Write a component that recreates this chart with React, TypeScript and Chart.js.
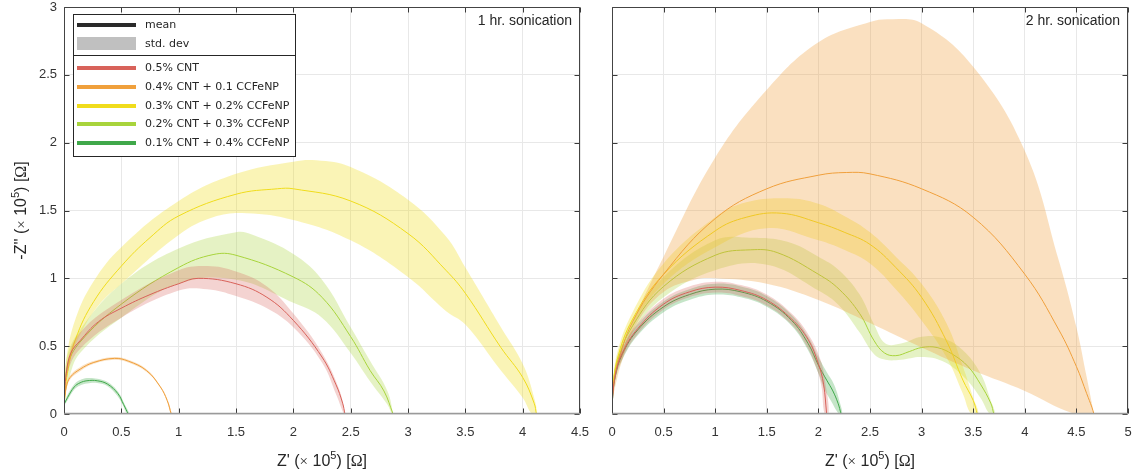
import React, { useEffect, useRef } from 'react';
import { Chart, registerables } from 'chart.js';
Chart.register(...registerables);

type P = [number, number];

// ---------- tick values ----------
const LEFT_X_TICKS = [0, 0.5, 1, 1.5, 2, 2.5, 3, 3.5, 4, 4.5];
const RIGHT_X_TICKS = [0, 0.5, 1, 1.5, 2, 2.5, 3, 3.5, 4, 4.5, 5];
const Y_TICKS = [0, 0.5, 1, 1.5, 2, 2.5, 3];

// ---------- series ----------
const SERIES_NAMES = [
  '0.5% CNT',
  '0.4% CNT + 0.1 CCFeNP',
  '0.3% CNT + 0.2% CCFeNP',
  '0.2% CNT + 0.3% CCFeNP',
  '0.1% CNT + 0.4% CCFeNP',
];
const SERIES_COLORS = ['#d8625a', '#f0a03c', '#f0dc1c', '#a8d43c', '#40a84a'];
const BAND_COLORS = [
  'rgba(216,98,90,0.28)',
  'rgba(240,160,60,0.32)',
  'rgba(240,220,28,0.32)',
  'rgba(168,212,60,0.30)',
  'rgba(64,168,74,0.30)',
];
const PANEL_TITLES = ['1 hr. sonication', '2 hr. sonication'];

// ---------- left panel (1 hr) ----------
const L_RED_MEAN: P[] = [[0, 0.07], [0.02, 0.3], [0.06, 0.45], [0.14, 0.54], [0.3, 0.68], [0.5, 0.78], [0.75, 0.88], [1.0, 0.96], [1.17, 1.0], [1.5, 0.96], [1.77, 0.86], [2.0, 0.69], [2.25, 0.42], [2.37, 0.22], [2.43, 0.08], [2.45, 0]];
const L_RED_UP: P[] = [[0, 0.07], [0.03, 0.38], [0.14, 0.6], [0.5, 0.84], [1.0, 1.06], [1.25, 1.09], [1.5, 1.05], [1.77, 0.94], [2.0, 0.74], [2.25, 0.45], [2.4, 0.18], [2.45, 0]];
const L_RED_LO: P[] = [[0, 0.07], [0.03, 0.3], [0.14, 0.48], [0.5, 0.71], [1.0, 0.91], [1.25, 0.92], [1.5, 0.87], [1.77, 0.78], [2.0, 0.64], [2.25, 0.38], [2.38, 0.13], [2.44, 0]];

const L_ORA_MEAN: P[] = [[0, 0.07], [0.02, 0.2], [0.054, 0.27], [0.14, 0.33], [0.26, 0.38], [0.44, 0.41], [0.56, 0.39], [0.72, 0.32], [0.84, 0.2], [0.9, 0.1], [0.935, 0]];
const L_ORA_UP: P[] = [[0, 0.08], [0.02, 0.22], [0.054, 0.285], [0.14, 0.345], [0.26, 0.39], [0.44, 0.42], [0.56, 0.4], [0.72, 0.33], [0.845, 0.2], [0.905, 0.1], [0.94, 0]];
const L_ORA_LO: P[] = [[0, 0.06], [0.02, 0.18], [0.054, 0.255], [0.14, 0.315], [0.26, 0.37], [0.44, 0.4], [0.56, 0.38], [0.72, 0.31], [0.835, 0.2], [0.895, 0.1], [0.93, 0]];

const L_YEL_MEAN: P[] = [[0, 0.07], [0.03, 0.3], [0.1, 0.55], [0.26, 0.83], [0.5, 1.09], [0.75, 1.3], [1.0, 1.46], [1.5, 1.62], [1.86, 1.66], [2.0, 1.66], [2.5, 1.57], [3.0, 1.33], [3.33, 1.06], [3.5, 0.89], [3.81, 0.49], [4.0, 0.27], [4.1, 0.08], [4.12, 0]];
const L_YEL_UP: P[] = [[0, 0.07], [0.02, 0.4], [0.1, 0.7], [0.26, 0.98], [0.5, 1.23], [1.0, 1.57], [1.5, 1.77], [2.0, 1.86], [2.2, 1.87], [2.5, 1.82], [3.0, 1.58], [3.33, 1.31], [3.5, 1.08], [3.81, 0.64], [4.0, 0.37], [4.1, 0.12], [4.12, 0]];
const L_YEL_LO: P[] = [[0, 0.07], [0.05, 0.38], [0.15, 0.6], [0.3, 0.8], [0.5, 0.96], [1.0, 1.32], [1.3, 1.45], [1.59, 1.48], [2.0, 1.43], [2.5, 1.28], [3.0, 1.01], [3.33, 0.76], [3.5, 0.66], [3.81, 0.32], [4.0, 0.12], [4.08, 0]];

const L_LIM_MEAN: P[] = [[0, 0.07], [0.03, 0.35], [0.14, 0.53], [0.5, 0.81], [1.0, 1.08], [1.3, 1.175], [1.5, 1.17], [2.0, 1.01], [2.25, 0.86], [2.5, 0.57], [2.67, 0.32], [2.79, 0.17], [2.87, 0]];
const L_LIM_UP: P[] = [[0, 0.07], [0.02, 0.4], [0.14, 0.62], [0.5, 0.96], [1.0, 1.22], [1.5, 1.34], [1.65, 1.32], [2.0, 1.18], [2.25, 0.99], [2.5, 0.64], [2.67, 0.39], [2.82, 0.17], [2.87, 0]];
const L_LIM_LO: P[] = [[0, 0.07], [0.05, 0.28], [0.14, 0.45], [0.5, 0.71], [1.0, 0.96], [1.5, 0.99], [2.0, 0.82], [2.25, 0.71], [2.5, 0.45], [2.67, 0.24], [2.82, 0.07], [2.86, 0]];

const L_GRN_MEAN: P[] = [[0, 0.07], [0.03, 0.12], [0.09, 0.2], [0.14, 0.23], [0.2, 0.245], [0.29, 0.245], [0.38, 0.22], [0.47, 0.15], [0.52, 0.07], [0.56, 0]];
const L_GRN_UP: P[] = [[0, 0.08], [0.03, 0.14], [0.09, 0.22], [0.14, 0.25], [0.2, 0.265], [0.29, 0.26], [0.38, 0.235], [0.47, 0.165], [0.53, 0.07], [0.57, 0]];
const L_GRN_LO: P[] = [[0, 0.06], [0.03, 0.1], [0.09, 0.18], [0.14, 0.21], [0.2, 0.225], [0.29, 0.228], [0.38, 0.205], [0.46, 0.14], [0.51, 0.07], [0.55, 0]];

// ---------- right panel (2 hr) ----------
const R_RED_MEAN: P[] = [[0, 0.07], [0.03, 0.28], [0.1, 0.45], [0.25, 0.63], [0.5, 0.81], [0.75, 0.9], [1.0, 0.935], [1.25, 0.91], [1.5, 0.84], [1.74, 0.7], [1.9, 0.55], [2.0, 0.37], [2.05, 0.22], [2.08, 0]];
const R_RED_UP: P[] = [[0, 0.08], [0.03, 0.31], [0.1, 0.49], [0.25, 0.67], [0.5, 0.85], [0.75, 0.94], [1.0, 0.975], [1.25, 0.95], [1.5, 0.88], [1.74, 0.74], [1.9, 0.59], [2.02, 0.4], [2.07, 0.22], [2.1, 0]];
const R_RED_LO: P[] = [[0, 0.06], [0.03, 0.25], [0.1, 0.41], [0.25, 0.59], [0.5, 0.77], [0.75, 0.86], [1.0, 0.895], [1.25, 0.87], [1.5, 0.8], [1.74, 0.66], [1.88, 0.51], [1.98, 0.34], [2.03, 0.2], [2.06, 0]];

const R_ORA_MEAN: P[] = [[0, 0.12], [0.05, 0.35], [0.2, 0.68], [0.5, 1.03], [1.0, 1.44], [1.5, 1.66], [2.0, 1.76], [2.27, 1.78], [2.5, 1.77], [3.0, 1.66], [3.5, 1.45], [4.0, 1.03], [4.33, 0.62], [4.5, 0.35], [4.6, 0.15], [4.65, 0.05], [4.67, 0]];
const R_ORA_UP: P[] = [[0, 0.15], [0.1, 0.45], [0.21, 0.69], [0.5, 1.16], [1.0, 1.89], [1.5, 2.39], [2.0, 2.74], [2.5, 2.89], [2.7, 2.91], [3.0, 2.88], [3.5, 2.56], [4.0, 1.94], [4.33, 1.13], [4.5, 0.64], [4.6, 0.27], [4.67, 0]];
const R_ORA_LO: P[] = [[0, 0.1], [0.1, 0.4], [0.25, 0.68], [0.5, 0.9], [0.8, 0.99], [1.0, 1.0], [1.5, 0.96], [2.0, 0.84], [2.5, 0.67], [3.0, 0.49], [3.5, 0.32], [4.0, 0.17], [4.45, 0.01], [4.67, 0]];

const R_YEL_MEAN: P[] = [[0, 0.15], [0.05, 0.4], [0.2, 0.7], [0.5, 1.03], [1.0, 1.35], [1.3, 1.45], [1.64, 1.48], [2.0, 1.41], [2.25, 1.34], [2.5, 1.25], [2.75, 1.08], [3.0, 0.86], [3.24, 0.54], [3.4, 0.25], [3.5, 0.1], [3.54, 0]];
const R_YEL_UP: P[] = [[0, 0.18], [0.05, 0.45], [0.2, 0.75], [0.5, 1.11], [1.0, 1.45], [1.3, 1.56], [1.7, 1.59], [2.0, 1.55], [2.25, 1.46], [2.5, 1.34], [2.75, 1.16], [3.0, 0.96], [3.24, 0.67], [3.4, 0.35], [3.5, 0.12], [3.55, 0]];
const R_YEL_LO: P[] = [[0, 0.12], [0.05, 0.35], [0.2, 0.65], [0.5, 0.96], [1.0, 1.23], [1.5, 1.37], [2.0, 1.28], [2.25, 1.21], [2.5, 1.11], [2.75, 0.92], [3.0, 0.69], [3.24, 0.42], [3.4, 0.15], [3.48, 0]];

const R_LIM_MEAN: P[] = [[0, 0.15], [0.05, 0.38], [0.2, 0.65], [0.5, 0.94], [1.0, 1.17], [1.34, 1.21], [1.6, 1.19], [2.0, 1.03], [2.2, 0.92], [2.4, 0.74], [2.54, 0.54], [2.64, 0.45], [2.75, 0.43], [2.88, 0.46], [3.0, 0.49], [3.15, 0.49], [3.3, 0.44], [3.45, 0.35], [3.57, 0.22], [3.67, 0.08], [3.7, 0]];
const R_LIM_UP: P[] = [[0, 0.17], [0.05, 0.42], [0.2, 0.7], [0.5, 1.01], [1.0, 1.28], [1.34, 1.3], [1.7, 1.27], [2.0, 1.16], [2.2, 1.06], [2.4, 0.88], [2.54, 0.66], [2.65, 0.52], [2.8, 0.52], [3.0, 0.57], [3.2, 0.56], [3.4, 0.47], [3.57, 0.3], [3.67, 0.1], [3.71, 0]];
const R_LIM_LO: P[] = [[0, 0.13], [0.05, 0.34], [0.2, 0.6], [0.5, 0.86], [1.0, 1.06], [1.5, 1.1], [2.0, 0.91], [2.2, 0.8], [2.4, 0.6], [2.54, 0.44], [2.65, 0.4], [2.8, 0.4], [3.0, 0.42], [3.2, 0.39], [3.4, 0.28], [3.57, 0.12], [3.66, 0]];

const R_GRN_MEAN: P[] = [[0, 0.07], [0.03, 0.27], [0.1, 0.44], [0.25, 0.62], [0.5, 0.79], [0.75, 0.88], [1.0, 0.92], [1.25, 0.9], [1.5, 0.83], [1.74, 0.69], [1.9, 0.52], [2.0, 0.36], [2.08, 0.25], [2.14, 0.17], [2.19, 0.08], [2.22, 0]];
const R_GRN_UP: P[] = [[0, 0.08], [0.03, 0.3], [0.1, 0.48], [0.25, 0.66], [0.5, 0.83], [0.75, 0.92], [1.0, 0.96], [1.25, 0.94], [1.5, 0.87], [1.74, 0.73], [1.9, 0.57], [2.0, 0.42], [2.08, 0.31], [2.15, 0.22], [2.21, 0.08], [2.23, 0]];
const R_GRN_LO: P[] = [[0, 0.06], [0.03, 0.24], [0.1, 0.4], [0.25, 0.58], [0.5, 0.75], [0.75, 0.84], [1.0, 0.88], [1.25, 0.86], [1.5, 0.79], [1.74, 0.65], [1.9, 0.47], [2.0, 0.3], [2.06, 0.18], [2.12, 0.1], [2.2, 0]];

const LEFT_SERIES = [
  [L_RED_MEAN, L_RED_UP, L_RED_LO],
  [L_ORA_MEAN, L_ORA_UP, L_ORA_LO],
  [L_YEL_MEAN, L_YEL_UP, L_YEL_LO],
  [L_LIM_MEAN, L_LIM_UP, L_LIM_LO],
  [L_GRN_MEAN, L_GRN_UP, L_GRN_LO],
];
const RIGHT_SERIES = [
  [R_RED_MEAN, R_RED_UP, R_RED_LO],
  [R_ORA_MEAN, R_ORA_UP, R_ORA_LO],
  [R_YEL_MEAN, R_YEL_UP, R_YEL_LO],
  [R_LIM_MEAN, R_LIM_UP, R_LIM_LO],
  [R_GRN_MEAN, R_GRN_UP, R_GRN_LO],
];

const SANS = '"Liberation Sans", Arial, sans-serif';
const SERIF = '"Liberation Serif", "DejaVu Serif", serif';
const LEGEND_FONT = '"DejaVu Sans", Verdana, sans-serif';
const TEXT = '#262626';

function buildDatasets(series: P[][][]) {
  const ds: any[] = [];
  series.forEach(([mean, up, lo], i) => {
    const poly = [...up, ...lo.slice().reverse()].map(([x, y]) => ({ x, y }));
    ds.push({
      type: 'line',
      data: poly,
      showLine: true,
      fill: 'shape',
      backgroundColor: BAND_COLORS[i],
      borderColor: 'rgba(0,0,0,0)',
      borderWidth: 0,
      pointRadius: 0,
      tension: 0.4,
    });
    ds.push({
      type: 'line',
      data: mean.map(([x, y]) => ({ x, y })),
      showLine: true,
      fill: false,
      borderColor: SERIES_COLORS[i],
      borderWidth: 1,
      pointRadius: 0,
      tension: 0.4,
    });
  });
  return ds;
}

type Part = { t: string; f: string; dy?: number };
function drawRich(ctx: CanvasRenderingContext2D, parts: Part[], cx: number, cy: number) {
  let total = 0;
  const ws = parts.map((p) => {
    ctx.font = p.f;
    const w = ctx.measureText(p.t).width;
    total += w;
    return w;
  });
  let x = cx - total / 2;
  ctx.textAlign = 'left';
  ctx.textBaseline = 'alphabetic';
  parts.forEach((p, i) => {
    ctx.font = p.f;
    ctx.fillText(p.t, x, cy + (p.dy || 0));
    x += ws[i];
  });
}

function titleParts(prefix: string): Part[] {
  const f = `16px ${SANS}`;
  return [
    { t: prefix + ' (', f },
    { t: '\u00d7', f: `15px ${SERIF}` },
    { t: ' 10', f },
    { t: '5', f: `11px ${SANS}`, dy: -7 },
    { t: ') [', f },
    { t: '\u03a9', f: `16px ${SERIF}` },
    { t: ']', f },
  ];
}

function makeDecor(panel: number) {
  return {
    id: 'decor' + panel,
    afterDraw(chart: any) {
      const { ctx, chartArea: a, scales } = chart;
      const L = Math.round(a.left) + 0.5;
      const R = Math.round(a.right) - 0.5;
      const T = Math.round(a.top) + 0.5;
      const B = Math.round(a.bottom) - 0.5;
      ctx.save();
      ctx.lineWidth = 1;
      ctx.strokeStyle = '#3a3a3a';
      const tl = 5;
      ctx.beginPath();
      scales.x.ticks.forEach((t: any) => {
        const px = Math.round(scales.x.getPixelForValue(t.value)) + 0.5;
        ctx.moveTo(px, B);
        ctx.lineTo(px, B - tl);
        ctx.moveTo(px, T);
        ctx.lineTo(px, T + tl);
      });
      scales.y.ticks.forEach((t: any) => {
        const py = Math.round(scales.y.getPixelForValue(t.value)) + 0.5;
        ctx.moveTo(L, py);
        ctx.lineTo(L + tl, py);
        ctx.moveTo(R, py);
        ctx.lineTo(R - tl, py);
      });
      ctx.stroke();
      ctx.strokeStyle = '#444';
      ctx.beginPath();
      ctx.moveTo(L, B);
      ctx.lineTo(L, T);
      ctx.lineTo(R, T);
      ctx.lineTo(R, B);
      ctx.stroke();
      ctx.strokeStyle = '#9a9a9a';
      ctx.lineWidth = 1.5;
      ctx.beginPath();
      ctx.moveTo(L, B);
      ctx.lineTo(R, B);
      ctx.stroke();
      ctx.lineWidth = 1;

      ctx.fillStyle = TEXT;
      drawRich(ctx, titleParts("Z'"), (a.left + a.right) / 2, 466);
      if (panel === 0) {
        ctx.save();
        ctx.translate(26, (a.top + a.bottom) / 2);
        ctx.rotate(-Math.PI / 2);
        drawRich(ctx, titleParts("-Z''"), 0, 0);
        ctx.restore();
      }
      ctx.font = `14px ${SANS}`;
      ctx.textAlign = 'right';
      ctx.textBaseline = 'middle';
      ctx.fillText(PANEL_TITLES[panel], a.right - 8, a.top + 14);

      if (panel === 0) {
        const lx = 73.5, ly = 14.5, lw = 222, lh = 142;
        ctx.fillStyle = '#fff';
        ctx.fillRect(lx, ly, lw, lh);
        ctx.strokeStyle = '#262626';
        ctx.strokeRect(lx, ly, lw, lh);
        ctx.beginPath();
        ctx.moveTo(lx, 55.5);
        ctx.lineTo(lx + lw, 55.5);
        ctx.stroke();
        const sx0 = 77, sx1 = 136, tx = 145;
        ctx.font = `11px ${LEGEND_FONT}`;
        ctx.textAlign = 'left';
        ctx.textBaseline = 'middle';
        ctx.fillStyle = '#2a2a2a';
        ctx.fillRect(sx0, 23, sx1 - sx0, 4);
        ctx.fillStyle = TEXT;
        ctx.fillText('mean', tx, 25);
        ctx.fillStyle = '#c0c0c0';
        ctx.fillRect(sx0, 37, sx1 - sx0, 13);
        ctx.fillStyle = TEXT;
        ctx.fillText('std. dev', tx, 44);
        const ys = [68, 87, 106, 124, 143];
        SERIES_NAMES.forEach((n, i) => {
          ctx.fillStyle = SERIES_COLORS[i];
          ctx.fillRect(sx0, ys[i] - 2, sx1 - sx0, 4);
          ctx.fillStyle = TEXT;
          ctx.fillText(n, tx, ys[i]);
        });
      }
      ctx.restore();
    },
  };
}

function makeConfig(panel: number): any {
  const xticks = panel === 0 ? LEFT_X_TICKS : RIGHT_X_TICKS;
  return {
    type: 'line',
    data: { datasets: buildDatasets(panel === 0 ? LEFT_SERIES : RIGHT_SERIES) },
    plugins: [makeDecor(panel)],
    options: {
      animation: false,
      responsive: false,
      events: [],
      elements: { point: { radius: 0 } },
      layout: { padding: { top: 7, right: panel === 0 ? 16 : 8, left: 0, bottom: 0 } },
      plugins: { legend: { display: false }, tooltip: { enabled: false } },
      scales: {
        x: {
          type: 'linear',
          min: 0,
          max: xticks[xticks.length - 1],
          afterBuildTicks: (s: any) => {
            s.ticks = xticks.map((v) => ({ value: v }));
          },
          afterFit: (s: any) => {
            s.height = 61;
            s.paddingLeft = 0;
            s.paddingRight = 0;
          },
          grid: { color: '#e8e8e8', drawTicks: false },
          border: { display: false },
          ticks: {
            padding: 11,
            color: '#333',
            font: { family: SANS, size: 13 },
            maxRotation: 0,
            autoSkip: false,
            callback: (v: any) => String(v),
          },
        },
        y: {
          type: 'linear',
          min: 0,
          max: 3,
          afterBuildTicks: (s: any) => {
            s.ticks = Y_TICKS.map((v) => ({ value: v }));
          },
          afterFit: (s: any) => {
            s.width = panel === 0 ? 64 : 16;
            s.paddingTop = 0;
            s.paddingBottom = 0;
          },
          grid: { color: '#e8e8e8', drawTicks: false },
          border: { display: false },
          ticks: {
            display: panel === 0,
            padding: 7,
            color: '#333',
            font: { family: SANS, size: 13, lineHeight: 1 },
            autoSkip: false,
            callback: (v: any) => String(v),
          },
        },
      },
    },
  };
}

function Panel({ panel, left, width }: { panel: number; left: number; width: number }) {
  const ref = useRef<HTMLCanvasElement>(null);
  useEffect(() => {
    const chart = new Chart(ref.current as HTMLCanvasElement, makeConfig(panel));
    return () => chart.destroy();
  }, [panel]);
  return (
    <canvas
      ref={ref}
      width={width}
      height={475}
      style={{ position: 'absolute', left, top: 0, width, height: 475 }}
    />
  );
}

export default function App() {
  return (
    <div style={{ position: 'absolute', left: 0, top: 0, width: 1136, height: 475, background: '#fff', overflow: 'hidden' }}>
      <Panel panel={0} left={0} width={596} />
      <Panel panel={1} left={596} width={540} />
    </div>
  );
}
